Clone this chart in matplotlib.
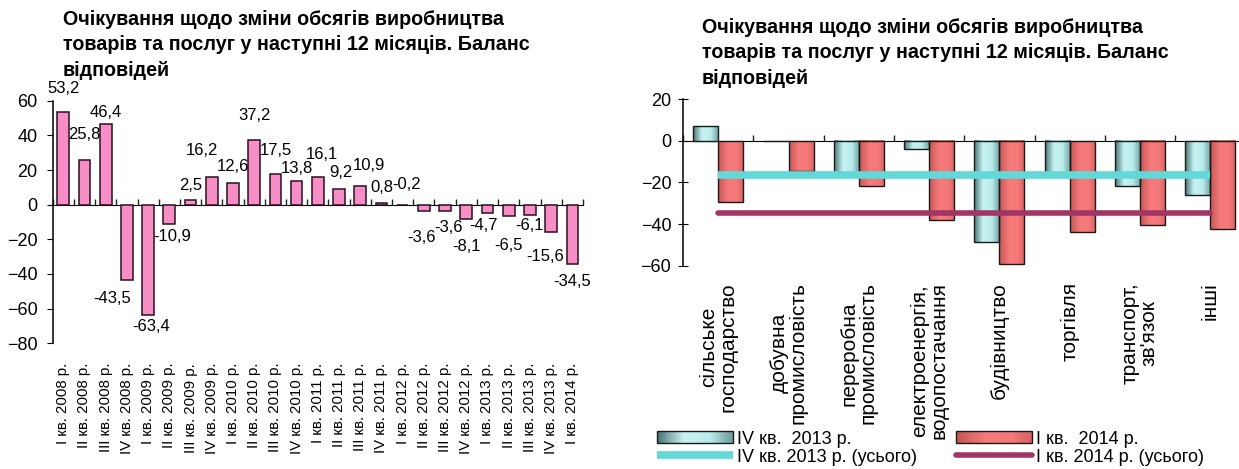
import numpy as np
import matplotlib.pyplot as plt
from matplotlib.colors import LinearSegmentedColormap
from matplotlib.lines import Line2D
from matplotlib.patches import Rectangle
from matplotlib.legend_handler import HandlerBase

plt.rcParams['font.family'] = ['Liberation Sans', 'DejaVu Sans']

TITLE = ("Очікування щодо зміни обсягів виробництва\n"
         "товарів та послуг у наступні 12 місяців. Баланс\n"
         "відповідей")

# left chart: balance by quarter
periods = ['I кв. 2008 р.', 'II кв. 2008 р.', 'III кв. 2008 р.', 'IV кв. 2008 р.',
           'I кв. 2009 р.', 'II кв. 2009 р.', 'III кв. 2009 р.', 'IV кв. 2009 р.',
           'I кв. 2010 р.', 'II кв. 2010 р.', 'III кв. 2010 р.', 'IV кв. 2010 р.',
           'I кв. 2011 р.', 'II кв. 2011 р.', 'III кв. 2011 р.', 'IV кв. 2011 р.',
           'I кв. 2012 р.', 'II кв. 2012 р.', 'III кв. 2012 р.', 'IV кв. 2012 р.',
           'I кв. 2013 р.', 'II кв. 2013 р.', 'III кв. 2013 р.', 'IV кв. 2013 р.',
           'I кв. 2014 р.']
balance = [53.2, 25.8, 46.4, -43.5, -63.4, -10.9, 2.5, 16.2, 12.6, 37.2, 17.5, 13.8,
           16.1, 9.2, 10.9, 0.8, -0.2, -3.6, -3.6, -8.1, -4.7, -6.5, -6.1, -15.6, -34.5]

# right chart: balance by sector
sectors = ['сільське\nгосподарство', 'добувна\nпромисловість', 'переробна\nпромисловість',
           'електроенергія,\nводопостачання', 'будівництво', 'торгівля',
           "транспорт,\nзв'язок", 'інші']
q4_2013 = [7.0, 0.0, -16.5, -4.0, -48.8, -16.5, -21.8, -25.8]
q1_2014 = [-29.3, -14.4, -21.8, -38.1, -59.2, -43.7, -40.6, -42.6]
total_q4_2013 = -16.6
total_q1_2014 = -34.5

legend_labels = ['IV кв.  2013 р.', 'IV кв. 2013 р. (усього)',
                 'I кв.  2014 р.', 'I кв. 2014 р. (усього)']

# where each value label sits relative to its bar (x in categories, y in data units)
label_shift = [(0, 13.7), (0, 14.6), (0, 6.7), (-0.7, -10.7), (0.15, -7.0), (0.15, -7.6),
               (0, 8.5), (-0.47, 15.0), (0, 9.3), (0, 14.2), (0, 13.7), (0, 7.0),
               (0.2, 12.8), (0.1, 9.3), (0.4, 11.6), (0, 9.0), (0.2, 11.7),
               (-0.1, -15.4), (0.15, -9.7), (0, -16.1), (-0.2, -7.4), (0, -17.2),
               (0, -6.0), (-0.3, -14.4), (0, -9.9)]

teal_cmap = LinearSegmentedColormap.from_list(
    'teal', [(0, '#4a7777'), (0.35, '#c8f4f2'), (0.7, '#b8ebea'), (1, '#6f9f9f')])
red_cmap = LinearSegmentedColormap.from_list(
    'red', [(0, '#c65656'), (0.4, '#f77b7b'), (0.75, '#f47878'), (1, '#d86262')])
teal_line = '#62d8d8'
purple_line = '#a03566'


class GradientHandler(HandlerBase):
    def __init__(self, cmap):
        super().__init__()
        self.cmap = cmap

    def create_artists(self, legend, orig_handle, xdescent, ydescent, width, height,
                       fontsize, trans):
        n = 40
        arts = []
        for k in range(n):
            arts.append(Rectangle((-xdescent + k * width / n, -ydescent), width / n + 0.3,
                                  height, facecolor=self.cmap(k / (n - 1)), lw=0,
                                  transform=trans))
        arts.append(Rectangle((-xdescent, -ydescent), width, height, facecolor='none',
                              edgecolor='#1a1a1a', lw=1.0, transform=trans))
        return arts


def zero_axis(ax, n, tick_len):
    lo, hi = ax.get_ylim()
    sec = ax.secondary_xaxis(-lo / (hi - lo))
    sec.set_xticks(np.arange(n + 1) - 0.5, labels=[])
    sec.tick_params(direction='out', length=tick_len, width=1, color='#222222')
    sec.spines['bottom'].set_linewidth(1.1)
    return sec


def gradient_bars(ax, bars, cmap):
    grad = np.linspace(0, 1, 64).reshape(1, -1)
    for b in bars:
        h = b.get_height()
        if h == 0:
            continue
        x, y, w = b.get_x(), b.get_y(), b.get_width()
        ax.imshow(grad, cmap=cmap, extent=[x, x + w, y, y + h], aspect='auto',
                  interpolation='bicubic', zorder=2)


def legend_entry(fig, handle, label, x_px, y_px, handler=None):
    hmap = {handle: handler} if handler else None
    leg = fig.legend([handle], [label], loc='center left',
                     bbox_to_anchor=(x_px / 1239, 1 - y_px / 469), frameon=False,
                     fontsize=13, handlelength=4.2, handleheight=0.65, handletextpad=0.25,
                     borderpad=0, borderaxespad=0, handler_map=hmap)
    return leg


fig = plt.figure(figsize=(12.39, 4.69), dpi=100)

# ---- left chart
ax1 = fig.add_axes([0.0425, 0.268, 0.428, 0.5173])
x = np.arange(len(balance))
ax1.bar(x, balance, width=0.55, color='#f78fc6', edgecolor='#2a1020', linewidth=1.1, zorder=3)
ax1.set_xlim(-0.5, len(balance) - 0.5)
ax1.set_ylim(-80, 60)
ax1.set_yticks(range(-80, 61, 20))
for s in ['top', 'right', 'bottom']:
    ax1.spines[s].set_visible(False)
ax1.spines['left'].set_linewidth(1.1)
ax1.tick_params(axis='y', direction='out', length=4, labelsize=13, pad=7)
ax1.set_xticks(x, periods, rotation=90, fontsize=10.8)
ax1.tick_params(axis='x', length=0, pad=14)
zero_axis(ax1, len(balance), 4)

for i, v in enumerate(balance):
    dx, dy = label_shift[i]
    ax1.text(i + dx, v + dy, f'{v:.1f}'.replace('.', ','), ha='center', va='center',
             fontsize=12, clip_on=False, zorder=5)

fig.text(63 / 1239, 1 - 10 / 469, TITLE, ha='left', va='top', fontsize=14.2,
         fontweight='bold', linespacing=1.42)

# ---- right chart
ax2 = fig.add_axes([0.5513, 0.4335, 0.4539, 0.3548])
xs = np.arange(len(sectors))
bw = 0.356
b1 = ax2.bar(xs - bw / 2, q4_2013, width=bw, facecolor='none', edgecolor='#1a1a1a',
             linewidth=1.0, zorder=3)
b2 = ax2.bar(xs + bw / 2, q1_2014, width=bw, facecolor='none', edgecolor='#1a1a1a',
             linewidth=1.0, zorder=3)
gradient_bars(ax2, b1, teal_cmap)
gradient_bars(ax2, b2, red_cmap)
ax2.plot([xs[0], xs[-1]], [total_q4_2013] * 2, color=teal_line, lw=5.5,
         solid_capstyle='butt', zorder=4)
ax2.plot([xs[0], xs[-1]], [total_q1_2014] * 2, color=purple_line, lw=4,
         solid_capstyle='round', zorder=4)
ax2.set_xlim(-0.5, len(sectors) - 0.5)
ax2.set_ylim(-60, 20)
ax2.set_yticks(range(-60, 21, 20))
for s in ['top', 'right', 'bottom']:
    ax2.spines[s].set_visible(False)
ax2.spines['left'].set_linewidth(1.1)
ax2.tick_params(axis='y', direction='inout', length=7, labelsize=13, pad=5)
ax2.set_xticks(xs, sectors, rotation=90, fontsize=15, multialignment='center',
               linespacing=1.0)
ax2.tick_params(axis='x', length=0, pad=12)
zero_axis(ax2, len(sectors), 4)

fig.text(702 / 1239, 1 - 18 / 469, TITLE, ha='left', va='top', fontsize=14.2,
         fontweight='bold', linespacing=1.42)

# ---- legend, one entry at a time to keep the reference grid
bar_q4 = Rectangle((0, 0), 1, 1)
bar_q1 = Rectangle((0, 0), 1, 1)
legend_entry(fig, bar_q4, legend_labels[0], 657, 439, GradientHandler(teal_cmap))
legend_entry(fig, Line2D([], [], color=teal_line, lw=5.5, solid_capstyle='butt'),
             legend_labels[1], 657, 457)
legend_entry(fig, bar_q1, legend_labels[2], 956, 439, GradientHandler(red_cmap))
legend_entry(fig, Line2D([], [], color=purple_line, lw=4, solid_capstyle='round'),
             legend_labels[3], 956, 457)

fig.savefig('out.png', dpi=100)
